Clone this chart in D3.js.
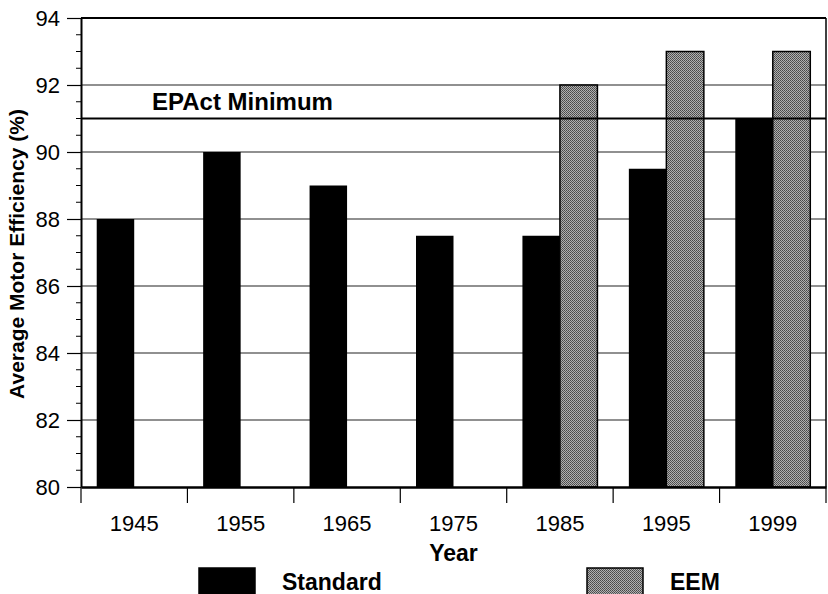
<!DOCTYPE html>
<html><head><meta charset="utf-8">
<script src="https://cdn.jsdelivr.net/npm/d3@7"></script>
<style>body{margin:0;background:#fff}svg{display:block}text{font-family:"Liberation Sans",Arial,Helvetica,sans-serif}</style>
</head><body><div id="c"></div>
<script>
const years = ["1945","1955","1965","1975","1985","1995","1999"];
const standard = [88, 90, 89, 87.5, 87.5, 89.5, 91];
const eem = [null, null, null, null, 92, 93, 93];
const yTicks = [80, 82, 84, 86, 88, 90, 92, 94];
const epact = 91;
const seriesNames = ["Standard", "EEM"];

const W = 828, H = 594;
const m = {l: 81, r: 2, t: 18, b: 107};
const FONT = "Liberation Sans, Arial, sans-serif";
const svg = d3.select("#c").append("svg").attr("width", W).attr("height", H);

const defs = svg.append("defs");
const pat = defs.append("pattern").attr("id","dith").attr("width",2).attr("height",2).attr("patternUnits","userSpaceOnUse");
pat.append("rect").attr("width",2).attr("height",2).attr("fill","#b0b0b0");
pat.append("rect").attr("width",1).attr("height",1).attr("fill","#484848");
pat.append("rect").attr("x",1).attr("y",1).attr("width",1).attr("height",1).attr("fill","#585858");

const x = d3.scaleBand().domain(years).range([m.l, W - m.r]).padding(0);
const y = d3.scaleLinear().domain([80, 94]).range([H - m.b, m.t]);
const bw = 37.5;

// gridlines
svg.append("g").selectAll("line").data(yTicks.filter(v => v > 80 && v < 94)).join("line")
  .attr("x1", m.l).attr("x2", W - m.r).attr("y1", d => y(d)).attr("y2", d => y(d))
  .attr("stroke", "#222").attr("stroke-width", 1.2);

// bars
const g = svg.append("g");
years.forEach((yr, i) => {
  const c = x(yr) + x.bandwidth() / 2;
  g.append("rect").attr("x", c - bw).attr("width", bw)
    .attr("y", y(standard[i])).attr("height", y(80) - y(standard[i])).attr("fill", "#000");
  if (eem[i] != null) {
    g.append("rect").attr("x", c).attr("width", bw)
      .attr("y", y(eem[i])).attr("height", y(80) - y(eem[i]))
      .attr("fill", "url(#dith)").attr("stroke", "#000").attr("stroke-width", 1.5);
  }
});

// EPAct line
svg.append("line").attr("x1", m.l).attr("x2", W - m.r).attr("y1", y(epact)).attr("y2", y(epact))
  .attr("stroke", "#000").attr("stroke-width", 2);
svg.append("text").attr("x", 152).attr("y", 110).attr("font-size", 24).attr("font-weight", "bold")
  .text("EPAct Minimum");

// frame
svg.append("line").attr("x1", m.l).attr("x2", W - m.r).attr("y1", m.t).attr("y2", m.t).attr("stroke", "#000").attr("stroke-width", 2);
svg.append("line").attr("x1", W - m.r).attr("x2", W - m.r).attr("y1", m.t).attr("y2", H - m.b).attr("stroke", "#000").attr("stroke-width", 1.5);

// y axis
const ya = svg.append("g").attr("transform", `translate(${m.l},0)`)
  .call(d3.axisLeft(y).tickValues(yTicks).tickSize(14).tickSizeOuter(0).tickPadding(7).tickFormat(d3.format("d")));
ya.select(".domain").attr("stroke-width", 2);
ya.selectAll(".tick line").attr("stroke-width", 1.2);
ya.selectAll("text").attr("font-size", 22).attr("font-family", FONT).attr("fill", "#000");
const minor = d3.range(80, 94.01, 0.5).filter(v => !yTicks.includes(v));
svg.append("g").selectAll("line").data(minor).join("line")
  .attr("x1", m.l - 5).attr("x2", m.l).attr("y1", d => y(d)).attr("y2", d => y(d)).attr("stroke", "#000");

// x axis
const xa = svg.append("g").attr("transform", `translate(0,${H - m.b})`)
  .call(d3.axisBottom(x).tickSize(0).tickSizeOuter(0).tickPadding(28));
xa.select(".domain").attr("stroke-width", 2.5);
xa.selectAll("text").attr("font-size", 22).attr("font-family", FONT).attr("fill", "#000");
const bounds = years.map(d => x(d)).concat([x(years[years.length - 1]) + x.bandwidth()]);
svg.append("g").selectAll("line").data(bounds).join("line")
  .attr("x1", d => d).attr("x2", d => d).attr("y1", H - m.b).attr("y2", H - m.b + 16)
  .attr("stroke", "#000").attr("stroke-width", 1.2);

// axis titles
svg.append("text").attr("x", (m.l + W - m.r) / 2).attr("y", 561).attr("text-anchor", "middle")
  .attr("font-size", 23).attr("font-weight", "bold").text("Year");
svg.append("text").attr("transform", `translate(24,254) rotate(-90)`)
  .attr("text-anchor", "middle").attr("font-size", 21).attr("font-weight", "bold")
  .text("Average Motor Efficiency (%)");

// legend
const leg = [{n: seriesNames[0], x: 199, f: "#000"}, {n: seriesNames[1], x: 587, f: "url(#dith)"}];
leg.forEach(l => {
  svg.append("rect").attr("x", l.x).attr("y", 568).attr("width", 56).attr("height", 30)
    .attr("fill", l.f).attr("stroke", "#000").attr("stroke-width", 1.5);
  svg.append("text").attr("x", l.x + 83).attr("y", 590).attr("font-size", 23).attr("font-weight", "bold").text(l.n);
});
</script></body></html>
